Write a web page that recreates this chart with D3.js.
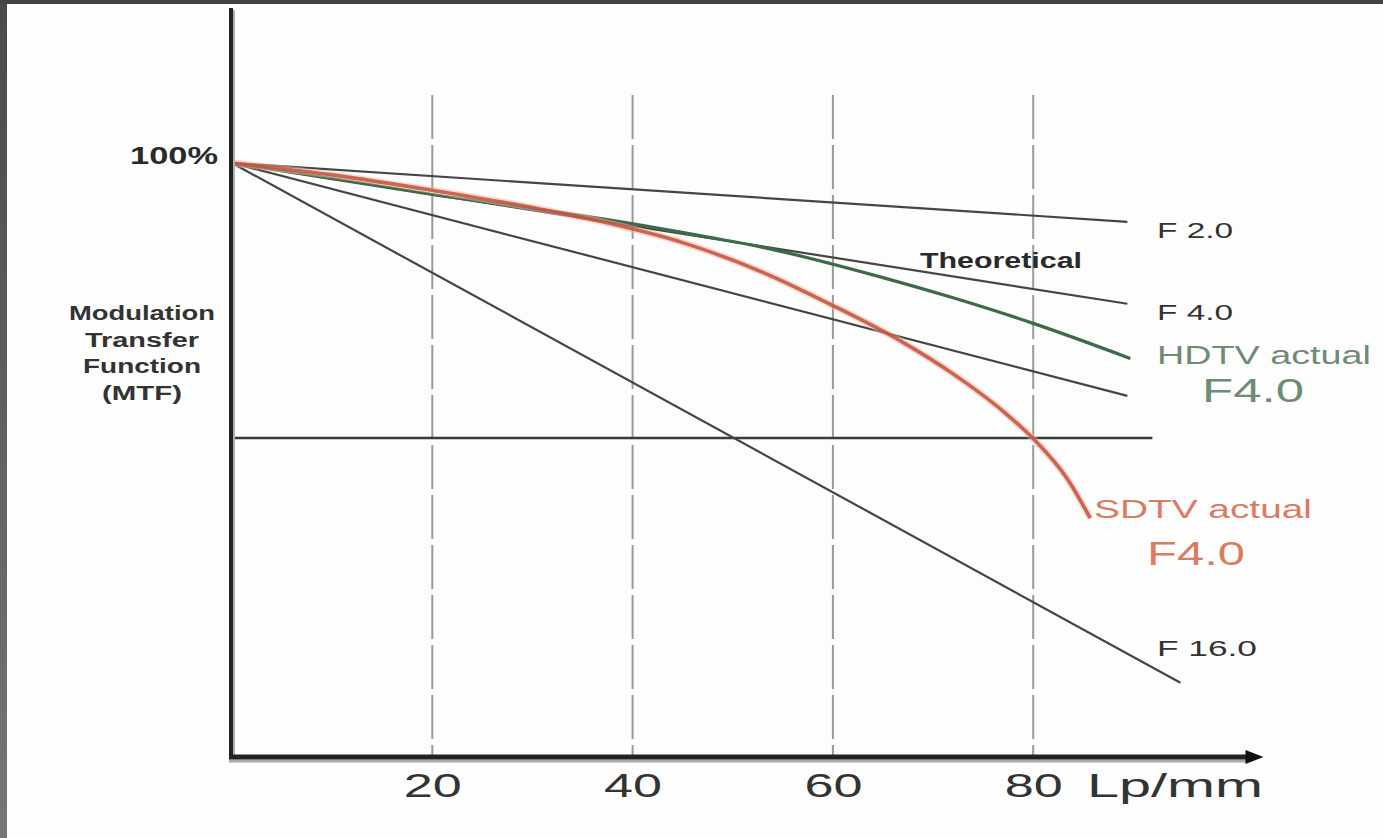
<!DOCTYPE html>
<html>
<head>
<meta charset="utf-8">
<script src="https://cdn.jsdelivr.net/npm/d3@7"></script>
<style>
  html, body { margin: 0; padding: 0; background: #fff; }
  svg { display: block; }
  text { font-family: "Liberation Sans", Arial, Helvetica, sans-serif; }
</style>
</head>
<body>
<svg id="chart" width="1383" height="838"></svg>
<script>
// Spatial frequency ticks (Lp/mm) and the single MTF tick
const xTicks = [20, 40, 60, 80];
const yTicks = [100];

// Theoretical MTF lines by aperture: [Lp/mm, MTF %]
const f2 = [[0, 100], [89.4, 90.1]];
const f4 = [[0, 100], [89.4, 76.3]];
const f8 = [[0, 100], [89.4, 60.8]];
const f16 = [[0, 100], [94.7, 12.5]];

// Measured MTF at F4.0
const hdtv = [[0, 100], [20, 94.7], [37, 90.6], [47, 87.7], [53, 85.8], [65, 80.7], [72, 77.3], [80, 73.0], [89.7, 67.1]];
const sdtv = [[0, 100], [10, 98.0], [20, 95.4], [30, 92.5], [37, 90.1], [45, 86.6], [53, 81.6], [60, 76.0], [67, 69.8], [72, 64.5], [77, 58.2], [80, 53.6], [83.5, 46.6], [85.7, 40.2]];

// Reference MTF level
const refLevel = 53.7;
const refEnd = 91.9;

const svg = d3.select("#chart");
const W = 1383, H = 838;

const x = d3.scaleLinear().domain([0, 100]).range([232, 1233.5]);
const y = d3.scaleLinear().domain([0, 100]).range([757, 163]);

// page background and dark frame on the top and left edges
svg.append("rect").attr("width", W).attr("height", H).attr("fill", "#fdfdfd");
const defs = svg.append("defs");
const lg = defs.append("linearGradient").attr("id", "edge").attr("x1", 0).attr("y1", 0).attr("x2", 0).attr("y2", 1);
lg.append("stop").attr("offset", "0%").attr("stop-color", "#4a4a4a");
lg.append("stop").attr("offset", "100%").attr("stop-color", "#767676");
svg.append("rect").attr("x", 0).attr("y", 0).attr("width", 7).attr("height", H).attr("fill", "url(#edge)");
svg.append("rect").attr("x", 0).attr("y", 0).attr("width", W).attr("height", 4).attr("fill", "#444");

// dashed vertical grid
svg.append("g").selectAll("line").data(xTicks).join("line")
  .attr("x1", d => x(d)).attr("x2", d => x(d))
  .attr("y1", 95).attr("y2", y(0))
  .attr("stroke", "#9a9a9a").attr("stroke-width", 2)
  .attr("stroke-dasharray", "44 6");

// reference level
svg.append("line")
  .attr("x1", x(0)).attr("x2", x(refEnd))
  .attr("y1", y(refLevel)).attr("y2", y(refLevel))
  .attr("stroke", "#3a3a3a").attr("stroke-width", 2.5);

// theoretical lines
const line = d3.line().x(d => x(d[0])).y(d => y(d[1]));
svg.append("g").selectAll("path").data([f2, f4, f8, f16]).join("path")
  .attr("d", line)
  .attr("fill", "none")
  .attr("stroke", "#454545")
  .attr("stroke-width", 2.2);

// measured curves
const curve = d3.line().x(d => x(d[0])).y(d => y(d[1])).curve(d3.curveMonotoneX);
svg.append("path").datum(hdtv).attr("d", curve)
  .attr("fill", "none").attr("stroke", "#3d6a48").attr("stroke-width", 3.2);
svg.append("path").datum(sdtv).attr("d", curve)
  .attr("fill", "none").attr("stroke", "#f0b8a8").attr("stroke-width", 7).attr("opacity", 0.5);
svg.append("path").datum(sdtv).attr("d", curve)
  .attr("fill", "none").attr("stroke", "#c4503a").attr("stroke-width", 3.6).attr("opacity", 0.85);

// axes
svg.append("line").attr("x1", x(0) + 2).attr("x2", x(0) + 2).attr("y1", 10).attr("y2", y(0))
  .attr("stroke", "#b0b0b0").attr("stroke-width", 2);
svg.append("line").attr("x1", x(0) - 1).attr("x2", x(0) - 1).attr("y1", 8).attr("y2", y(0) + 2)
  .attr("stroke", "#222").attr("stroke-width", 4);
svg.append("line").attr("x1", x(0) - 3).attr("x2", x(101.5)).attr("y1", y(0) + 4).attr("y2", y(0) + 4)
  .attr("stroke", "#a8a8a8").attr("stroke-width", 3);
svg.append("line").attr("x1", x(0) - 3).attr("x2", x(101.5)).attr("y1", y(0)).attr("y2", y(0))
  .attr("stroke", "#222").attr("stroke-width", 5);
svg.append("path")
  .attr("d", `M${x(103)},${y(0)} L${x(101.2)},${y(0) - 7} L${x(101.2)},${y(0) + 7} Z`)
  .attr("fill", "#111");

// tick labels
const xAxis = svg.append("g").attr("transform", `translate(0,${y(0)})`)
  .call(d3.axisBottom(x).tickValues(xTicks).tickSize(0).tickPadding(0));
xAxis.select(".domain").remove();
xAxis.selectAll("text")
  .attr("y", 40).attr("dy", null)
  .attr("font-size", 34).attr("fill", "#333")
  .attr("font-family", "'Liberation Sans', Arial, sans-serif")
  .attr("textLength", 58).attr("lengthAdjust", "spacingAndGlyphs");

const yAxis = svg.append("g").attr("transform", `translate(${x(0) - 14},0)`)
  .call(d3.axisLeft(y).tickValues(yTicks).tickSize(0).tickPadding(0).tickFormat(d => d + "%"));
yAxis.select(".domain").remove();
yAxis.selectAll("text")
  .attr("dy", null).attr("y", 0)
  .attr("font-size", 24).attr("font-weight", "bold").attr("fill", "#2a2a2a")
  .attr("font-family", "'Liberation Sans', Arial, sans-serif")
  .attr("textLength", 88).attr("lengthAdjust", "spacingAndGlyphs");

svg.append("text").attr("x", 1087).attr("y", 797)
  .attr("font-size", 34).attr("fill", "#333")
  .attr("textLength", 176).attr("lengthAdjust", "spacingAndGlyphs")
  .text("Lp/mm");

// axis title
const titleLines = ["Modulation", "Transfer", "Function", "(MTF)"];
const titleWidths = [146, 114, 118, 80];
svg.append("g").selectAll("text").data(titleLines).join("text")
  .attr("x", 142).attr("y", (d, i) => 320 + i * 26.5)
  .attr("text-anchor", "middle")
  .attr("font-size", 20).attr("font-weight", "bold").attr("fill", "#333")
  .attr("textLength", (d, i) => titleWidths[i]).attr("lengthAdjust", "spacingAndGlyphs")
  .text(d => d);

// series labels
const labels = [
  { text: "F 2.0", x: 1157, y: 238, size: 22, w: 76, color: "#333", weight: "normal" },
  { text: "Theoretical", x: 920, y: 268, size: 22, w: 162, color: "#2a2a2a", weight: "bold" },
  { text: "F 4.0", x: 1157, y: 320, size: 22, w: 76, color: "#333", weight: "normal" },
  { text: "HDTV actual", x: 1157, y: 364, size: 25, w: 214, color: "#6f8b73", weight: "normal" },
  { text: "F4.0", x: 1202, y: 402, size: 33, w: 102, color: "#6f8b73", weight: "normal" },
  { text: "SDTV actual", x: 1094, y: 518, size: 25, w: 218, color: "#d97c62", weight: "normal" },
  { text: "F4.0", x: 1147, y: 565, size: 34, w: 98, color: "#d97c62", weight: "normal" },
  { text: "F 16.0", x: 1157, y: 656, size: 22, w: 100, color: "#333", weight: "normal" }
];
svg.append("g").selectAll("text").data(labels).join("text")
  .attr("x", d => d.x).attr("y", d => d.y)
  .attr("font-size", d => d.size).attr("font-weight", d => d.weight)
  .attr("fill", d => d.color)
  .attr("textLength", d => d.w).attr("lengthAdjust", "spacingAndGlyphs")
  .text(d => d.text);
</script>
</body>
</html>
